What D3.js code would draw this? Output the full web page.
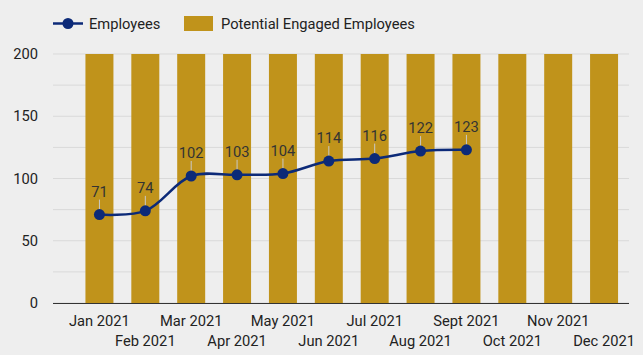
<!DOCTYPE html>
<html><head><meta charset="utf-8">
<script src="https://cdn.jsdelivr.net/npm/d3@7"></script>
<style>body{margin:0;background:#eeeeee;font-family:Roboto,sans-serif;}</style>
</head><body>
<svg id="c" width="643" height="355"></svg>
<script>
const categories = ["Jan 2021","Feb 2021","Mar 2021","Apr 2021","May 2021","Jun 2021","Jul 2021","Aug 2021","Sept 2021","Oct 2021","Nov 2021","Dec 2021"];
const employees = [71,74,102,103,104,114,116,122,123];
const potential = [200,200,200,200,200,200,200,200,200,200,200,200];
const yTicks = [0,50,100,150,200];
const yGrid = [0,25,50,75,100,125,150,175,200];

const FS = 14.7;
const svg = d3.select("#c");
svg.append("rect").attr("width",643).attr("height",355).attr("fill","#eeeeee");
const barColor = "#c0931b", lineColor = "#0c2a78";

const x = d3.scaleBand().domain(categories).range([76.5,627]).paddingInner(0.39).paddingOuter(0.195);
const y = d3.scaleLinear().domain([0,200]).range([303,54]);

svg.append("g").selectAll("line").data(yGrid).join("line")
  .attr("x1",53).attr("x2",629).attr("y1",d=>y(d)).attr("y2",d=>y(d))
  .attr("stroke","#d9d9d9").attr("stroke-width",1);

svg.append("g").selectAll("text").data(yTicks).join("text")
  .attr("x",38).attr("y",d=>y(d)).attr("dy","0.35em").attr("text-anchor","end")
  .attr("font-size",FS).attr("fill","#222").text(d=>d);

svg.append("g").selectAll("rect").data(potential).join("rect")
  .attr("x",(d,i)=>x(categories[i])).attr("width",x.bandwidth())
  .attr("y",d=>y(d)).attr("height",d=>y(0)-y(d)).attr("fill",barColor);

svg.append("line").attr("x1",53).attr("x2",629).attr("y1",y(0)+0.5).attr("y2",y(0)+0.5)
  .attr("stroke","#333").attr("stroke-width",1);

svg.append("g").selectAll("text").data(categories).join("text")
  .attr("x",d=>x(d)+x.bandwidth()/2).attr("y",(d,i)=> i%2===0 ? 326 : 346)
  .attr("text-anchor","middle").attr("font-size",FS).attr("fill","#222").text(d=>d);

const cx = (d,i)=>x(categories[i])+x.bandwidth()/2;

svg.append("g").selectAll("line").data(employees).join("line")
  .attr("x1",cx).attr("x2",cx).attr("y1",d=>y(d)).attr("y2",d=>y(d)-15)
  .attr("stroke","#c8c8c8").attr("stroke-width",1);

const line = d3.line().x(cx).y(d=>y(d)).curve(d3.curveCatmullRom.alpha(0.5));
svg.append("path").datum(employees).attr("d",line).attr("fill","none")
  .attr("stroke",lineColor).attr("stroke-width",2.5);
svg.append("g").selectAll("circle").data(employees).join("circle")
  .attr("cx",cx).attr("cy",d=>y(d)).attr("r",5.5).attr("fill",lineColor);

svg.append("g").selectAll("text").data(employees).join("text")
  .attr("x",cx).attr("y",d=>y(d)-18).attr("text-anchor","middle")
  .attr("font-size",FS).attr("fill","#333").text(d=>d);

const lg = svg.append("g");
lg.append("line").attr("x1",53).attr("x2",83).attr("y1",23.5).attr("y2",23.5).attr("stroke",lineColor).attr("stroke-width",2.5);
lg.append("circle").attr("cx",68).attr("cy",23.5).attr("r",5.5).attr("fill",lineColor);
lg.append("text").attr("x",89).attr("y",23.5).attr("dy","0.35em").attr("font-size",FS).attr("fill","#222").text("Employees");
lg.append("rect").attr("x",184).attr("y",16).attr("width",29).attr("height",15).attr("fill",barColor);
lg.append("text").attr("x",221).attr("y",23.5).attr("dy","0.35em").attr("font-size",FS).attr("fill","#222").text("Potential Engaged Employees");
</script>
</body></html>
